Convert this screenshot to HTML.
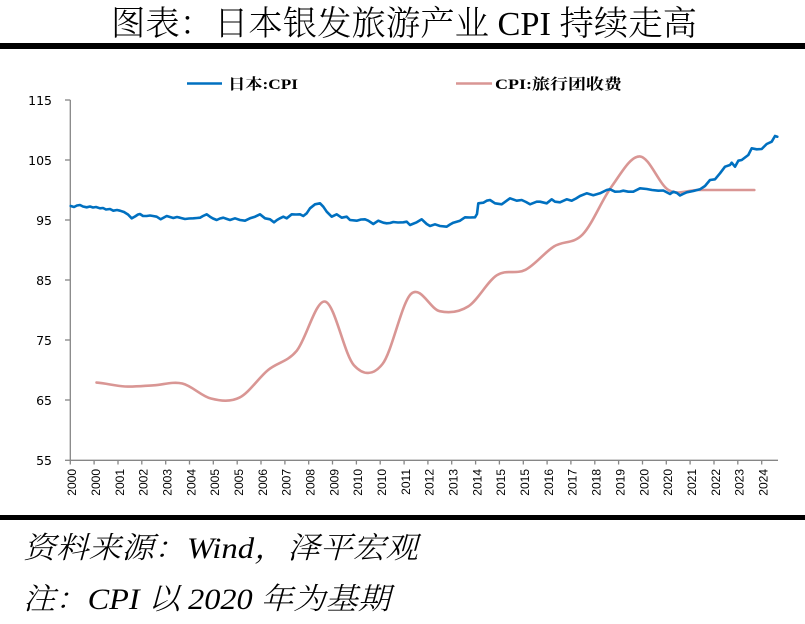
<!DOCTYPE html>
<html><head><meta charset="utf-8"><style>
html,body{margin:0;padding:0;background:#fff;}
svg{display:block;}
</style></head><body>
<svg width="805" height="624" viewBox="0 0 805 624" xmlns="http://www.w3.org/2000/svg">
<rect x="0" y="0" width="805" height="624" fill="#fff"/>
<text x="111" y="35" font-family="'Liberation Serif','Noto Serif CJK SC',serif" font-size="34" font-weight="300" fill="#000" textLength="586" lengthAdjust="spacingAndGlyphs">图表：日本银发旅游产业 CPI 持续走高</text>
<rect x="0" y="43" width="805" height="6" fill="#000"/>

<!-- legend -->
<line x1="187" y1="83.5" x2="222" y2="83.5" stroke="#0070C0" stroke-width="2.5"/>
<text x="228" y="89" font-family="'Liberation Serif','Noto Serif CJK SC',serif" font-size="15" font-weight="bold" fill="#000" textLength="70" lengthAdjust="spacingAndGlyphs">日本:CPI</text>
<line x1="456" y1="83.5" x2="492" y2="83.5" stroke="#D99694" stroke-width="2.5"/>
<text x="495" y="89" font-family="'Liberation Serif','Noto Serif CJK SC',serif" font-size="15" font-weight="bold" fill="#000" textLength="127" lengthAdjust="spacingAndGlyphs">CPI:旅行团收费</text>

<!-- axes -->
<g stroke="#868686" stroke-width="1.3" fill="none">
<line x1="70.3" y1="100" x2="70.3" y2="460.5"/>
<line x1="70" y1="460.3" x2="778" y2="460.3"/>
<line x1="65" y1="100" x2="70.3" y2="100"/>
<line x1="65" y1="160" x2="70.3" y2="160"/>
<line x1="65" y1="220" x2="70.3" y2="220"/>
<line x1="65" y1="280" x2="70.3" y2="280"/>
<line x1="65" y1="340" x2="70.3" y2="340"/>
<line x1="65" y1="400" x2="70.3" y2="400"/>
<line x1="65" y1="460.3" x2="70.3" y2="460.3"/>
<path d="M70.3,460v4.5M94.1,460v4.5M118,460v4.5M141.8,460v4.5M165.7,460v4.5M189.5,460v4.5M213.3,460v4.5M237.2,460v4.5M261,460v4.5M284.9,460v4.5M308.7,460v4.5M332.5,460v4.5M356.4,460v4.5M380.2,460v4.5M404.1,460v4.5M427.9,460v4.5M451.7,460v4.5M475.6,460v4.5M499.4,460v4.5M523.3,460v4.5M547.1,460v4.5M570.9,460v4.5M594.8,460v4.5M618.6,460v4.5M642.5,460v4.5M666.3,460v4.5M690.1,460v4.5M714,460v4.5M737.8,460v4.5M761.7,460v4.5"/>
</g>

<!-- y labels -->
<g font-family="'DejaVu Sans',sans-serif" font-size="12.5" fill="#000" text-anchor="end">
<text x="52" y="105">115</text>
<text x="52" y="165">105</text>
<text x="52" y="225">95</text>
<text x="52" y="285">85</text>
<text x="52" y="345">75</text>
<text x="52" y="405">65</text>
<text x="52" y="465">55</text>
</g>

<!-- x labels -->
<g font-family="'Liberation Sans',sans-serif" font-size="12" fill="#000" text-anchor="end">
<text transform="translate(76.1,469) rotate(-90)">2000</text>
<text transform="translate(99.9,469) rotate(-90)">2000</text>
<text transform="translate(123.8,469) rotate(-90)">2001</text>
<text transform="translate(147.6,469) rotate(-90)">2002</text>
<text transform="translate(171.5,469) rotate(-90)">2003</text>
<text transform="translate(195.3,469) rotate(-90)">2004</text>
<text transform="translate(219.1,469) rotate(-90)">2005</text>
<text transform="translate(243,469) rotate(-90)">2005</text>
<text transform="translate(266.8,469) rotate(-90)">2006</text>
<text transform="translate(290.7,469) rotate(-90)">2007</text>
<text transform="translate(314.5,469) rotate(-90)">2008</text>
<text transform="translate(338.3,469) rotate(-90)">2009</text>
<text transform="translate(362.2,469) rotate(-90)">2010</text>
<text transform="translate(386,469) rotate(-90)">2010</text>
<text transform="translate(409.9,469) rotate(-90)">2011</text>
<text transform="translate(433.7,469) rotate(-90)">2012</text>
<text transform="translate(457.5,469) rotate(-90)">2013</text>
<text transform="translate(481.4,469) rotate(-90)">2014</text>
<text transform="translate(505.2,469) rotate(-90)">2015</text>
<text transform="translate(529.1,469) rotate(-90)">2015</text>
<text transform="translate(552.9,469) rotate(-90)">2016</text>
<text transform="translate(576.7,469) rotate(-90)">2017</text>
<text transform="translate(600.6,469) rotate(-90)">2018</text>
<text transform="translate(624.4,469) rotate(-90)">2019</text>
<text transform="translate(648.3,469) rotate(-90)">2020</text>
<text transform="translate(672.1,469) rotate(-90)">2020</text>
<text transform="translate(695.9,469) rotate(-90)">2021</text>
<text transform="translate(719.8,469) rotate(-90)">2022</text>
<text transform="translate(743.6,469) rotate(-90)">2023</text>
<text transform="translate(767.5,469) rotate(-90)">2024</text>
</g>

<!-- pink series -->
<path fill="none" stroke="#D99694" stroke-width="2.6" stroke-linecap="round" stroke-linejoin="round" d="M96.5,382.6
C106.0,383.25 115.6,386.05 125.1,386.5
C134.6,386.95 144.2,385.8 153.7,385.3
C163.2,384.8 172.8,381.3 182.3,383.5
C191.8,385.7 201.4,396.15 210.9,398.5
C220.4,400.85 230.0,402.35 239.5,397.6
C249.0,392.85 258.6,377.8 268.1,370
C277.6,362.2 287.2,362.2 296.7,350.8
C306.2,339.4 315.8,299.2 325.3,301.6
C334.8,304.0 344.4,354.8 353.9,365.2
C363.4,375.6 373.0,375.9 382.5,364
C392.0,352.1 401.6,302.6 411.1,293.8
C420.6,285.0 430.2,309.1 439.7,311.2
C449.2,313.3 458.8,312.4 468.3,306.4
C477.8,300.4 487.4,281.3 496.9,275.2
C506.4,269.1 516.0,274.6 525.5,269.8
C535.0,265.0 544.6,252.3 554.1,246.4
C563.6,240.5 573.2,244.3 582.7,234.4
C592.2,224.5 601.8,200.0 611.3,187
C620.8,174.0 630.4,155.9 639.9,156.4
C649.4,156.9 659.0,184.4 668.5,190
C678.0,195.6 687.6,190 697.1,190
C706.6,190 716.2,190 725.7,190
C735.2,190 744.8,190 754.3,190"/>

<!-- blue series -->
<polyline fill="none" stroke="#0070C0" stroke-width="2.6" stroke-linejoin="round" stroke-linecap="round" points="70.7,206 74,207 77,205.5 80,205 83,206.5 86.7,207.3 90,206.5 93,207.5 96,207 100,208.3 103,208 106,209.5 110,209 113.3,210.7 117,210 120,210.7 124,212 128,214.5 131.7,218.3 135,216.5 138,214.5 140,214 143,216 146.7,216 150,215.5 153,216 156.7,216.7 160.7,219.3 163,218 166.7,216 170,217 173.3,218 177,217 180,217.7 185,219 189,218.5 193.3,218.3 197,218 200,217.7 203,216 206.7,214.3 210,216.7 213,218.5 216.7,220 220,218.5 223.3,217.7 227,219 230,220 235,218.3 240,220 245,220.7 250,218.3 255,216.7 260,214.3 265,218.3 270,219.3 274,222.3 277,220 280,218.3 283.3,216.7 286.7,218.3 291.7,214.3 296,214.5 300,214.3 303.3,216 306.7,213.3 310,208.3 315,204.3 320,203.3 323.3,206.7 326.7,211.7 331.7,216.7 336.7,214.3 341.7,217.7 346.7,216.7 350,220 356.7,220.7 361,219.5 365,219.3 368.3,220.7 373.3,224 378.3,220.7 383.3,222.7 386.7,223.3 390,223 393.3,222 398,222.5 403.3,222.3 406.7,221.7 410,225 416.7,222.3 421.7,219.3 426.7,224 430,226 435,224.3 440,226 446.7,226.7 450,224.5 453.3,222.7 460,220.7 465,217.3 470,217.5 475,217.3 477,214 478.3,203.3 483.3,202.7 486.7,200.7 490,200 495,203.3 501.7,204.3 506.7,200.7 510,198.3 516.7,200.7 521.7,200 526,202 530,204.3 536.7,201.7 540,201.7 546.7,203.3 551.7,199.3 555,201.7 560,202.3 566.7,199.3 571.7,200.7 576,198.5 580,196 586.7,193.3 593.3,195.2 600,193.3 606.7,190 610,189.3 615,191.7 620,191.5 623.3,190.7 628.3,191.7 633.3,191.7 640,188.3 646.7,189 652,190 658.3,190.7 663.3,190.5 670,194 673.3,191.7 677,193 680,195.5 683,194 686.7,192.3 693.3,191 700,189.3 705,186 710,180 715,179.3 720,173.3 725,166.7 730,165 731.7,162.7 735,166.7 738.3,160.7 741.7,160 748.3,155 751.7,148.3 756.7,149.3 761.7,149 766.7,144 771.7,141.7 775,136 777.3,136.7"/>

<!-- footer -->
<rect x="0" y="515" width="805" height="5" fill="#000"/>
<text x="23" y="558" font-family="'Liberation Serif','Noto Serif CJK SC',serif" font-size="30" font-weight="300" font-style="italic" fill="#000" textLength="395" lengthAdjust="spacingAndGlyphs">资料来源：Wind，泽平宏观</text>
<text x="23" y="609" font-family="'Liberation Serif','Noto Serif CJK SC',serif" font-size="30" font-weight="300" font-style="italic" fill="#000" textLength="367" lengthAdjust="spacingAndGlyphs">注：CPI 以 2020 年为基期</text>
</svg>
</body></html>
